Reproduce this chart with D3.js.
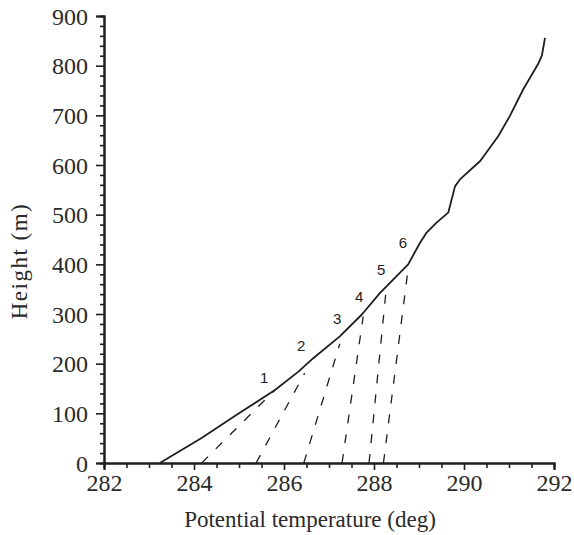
<!DOCTYPE html>
<html>
<head>
<meta charset="utf-8">
<script src="https://cdn.jsdelivr.net/npm/d3@7"></script>
<style>
  html, body { margin: 0; padding: 0; background: #fff; }
  svg { display: block; }
</style>
</head>
<body>
<svg id="chart" width="574" height="535"></svg>
<script>
// Potential temperature profile (deg) against height (m)
const profileTemp = [283.24, 284.16, 285.00, 285.80, 286.32, 286.65, 287.24, 287.73, 288.13, 288.76,
                     289.02, 289.17, 289.39, 289.65, 289.80, 289.91, 290.36, 290.76, 291.02, 291.32,
                     291.65, 291.73, 291.80];
const profileHeight = [0, 50, 100, 147, 184, 211, 255, 299, 342, 400,
                       443, 464, 484, 504, 557, 571, 608, 658, 699, 753,
                       804, 820, 856];

// Dashed construction lines, numbered 1-6: from a point on the profile down to the ground
const guideIds = ["1", "2", "3", "4", "5", "6"];
const guideTopTemp = [285.80, 286.46, 287.24, 287.76, 288.26, 288.76];
const guideTopHeight = [147, 181, 240, 295, 340, 392];
const guideBaseTemp = [284.17, 285.38, 286.44, 287.29, 287.89, 288.21];
// Where each number sits
const labelTemp = [285.56, 286.38, 287.18, 287.67, 288.16, 288.64];
const labelHeight = [172, 236, 290, 336, 390, 443];

const xTicks = [282, 284, 286, 288, 290, 292];
const yTicks = [0, 100, 200, 300, 400, 500, 600, 700, 800, 900];

const svg = d3.select("#chart");
const ink = "#1e1e1e";
const serif = "'Liberation Serif', 'Times New Roman', serif";

const x = d3.scaleLinear().domain([282, 292]).range([104, 554]);
const y = d3.scaleLinear().domain([0, 900]).range([463, 16]);

// Minor ticks
const xMinor = d3.range(282, 292.001, 0.5).filter(v => !xTicks.includes(v));
const yMinor = d3.range(0, 900.001, 20).filter(v => !yTicks.includes(v));

const xMinorAxis = d3.axisBottom(x).tickValues(xMinor).tickSize(5).tickFormat("");
const yMinorAxis = d3.axisLeft(y).tickValues(yMinor).tickSize(4).tickFormat("");
svg.append("g").attr("transform", `translate(0,${y(0)})`).call(xMinorAxis);
svg.append("g").attr("transform", `translate(${x(282)},0)`).call(yMinorAxis);

const xAxis = d3.axisBottom(x).tickValues(xTicks).tickSize(7).tickPadding(3).tickFormat(d3.format("d"));
const yAxis = d3.axisLeft(y).tickValues(yTicks).tickSize(8).tickPadding(8).tickFormat(d3.format("d"));

const gx = svg.append("g").attr("transform", `translate(0,${y(0)})`).call(xAxis);
const gy = svg.append("g").attr("transform", `translate(${x(282)},0)`).call(yAxis);

svg.selectAll(".domain").attr("stroke", ink).attr("stroke-width", 2);
svg.selectAll(".tick line").attr("stroke", ink).attr("stroke-width", 1.6);
svg.selectAll(".tick text")
  .style("font-family", serif)
  .style("font-size", "24px")
  .attr("fill", "#2a2a2a");
gx.selectAll(".tick text").attr("dy", "0.75em");
gy.selectAll(".tick text").attr("dy", "0.34em");

// Axis titles
svg.append("text")
  .attr("x", 310).attr("y", 527)
  .attr("text-anchor", "middle")
  .style("font-family", serif)
  .style("font-size", "23px")
  .attr("fill", "#2a2a2a")
  .text("Potential temperature (deg)");

svg.append("text")
  .attr("transform", "translate(27,261) rotate(-90)")
  .attr("text-anchor", "middle")
  .style("font-family", serif)
  .style("font-size", "23px")
  .attr("letter-spacing", 1.5)
  .attr("fill", "#2a2a2a")
  .text("Height (m)");

// Dashed guides
svg.append("g").selectAll("line")
  .data(guideIds)
  .join("line")
  .attr("x1", (d, i) => x(guideBaseTemp[i]))
  .attr("y1", y(0))
  .attr("x2", (d, i) => x(guideTopTemp[i]))
  .attr("y2", (d, i) => y(guideTopHeight[i]))
  .attr("stroke", ink)
  .attr("stroke-width", 1.3)
  .attr("stroke-dasharray", "9,11");

// Profile curve
const line = d3.line()
  .x((d, i) => x(profileTemp[i]))
  .y((d, i) => y(profileHeight[i]));
svg.append("path")
  .datum(profileTemp)
  .attr("d", line)
  .attr("fill", "none")
  .attr("stroke", ink)
  .attr("stroke-width", 1.8)
  .attr("stroke-linejoin", "round");

// Guide numbers
svg.append("g").selectAll("text")
  .data(guideIds)
  .join("text")
  .attr("x", (d, i) => x(labelTemp[i]))
  .attr("y", (d, i) => y(labelHeight[i]))
  .attr("text-anchor", "middle")
  .attr("dominant-baseline", "central")
  .style("font-family", "'Liberation Sans', Arial, sans-serif")
  .style("font-size", "15px")
  .attr("fill", "#222")
  .text(d => d);
</script>
</body>
</html>
